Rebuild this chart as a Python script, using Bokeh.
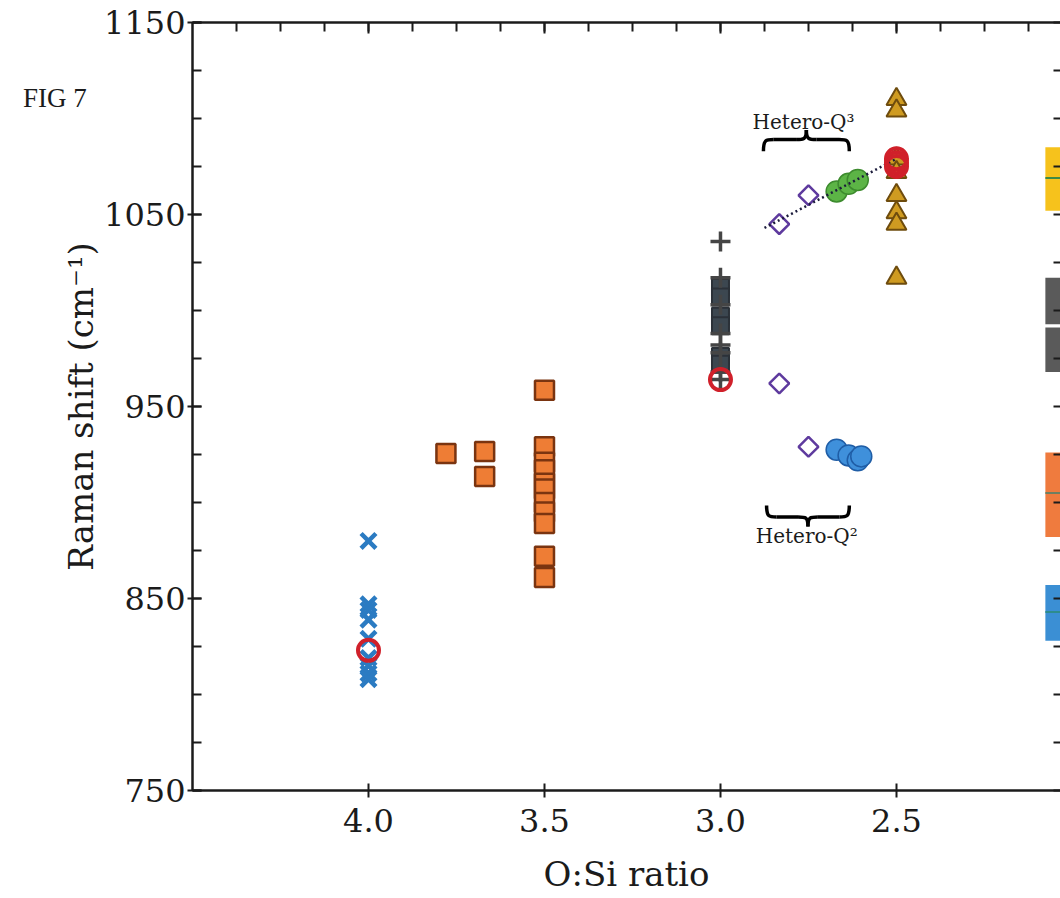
import numpy as np
from bokeh.plotting import figure
from bokeh.models import Range1d, LinearAxis, FixedTicker, Label, PrintfTickFormatter, Div
from bokeh.layouts import column
from bokeh.embed import file_html
from bokeh.resources import INLINE

# ---------------- data (O:Si ratio, Raman shift cm-1) ----------------
q0_ratio = [4.0, 4.0, 4.0, 4.0, 4.0, 4.0, 4.0, 4.0, 4.0]
q0_shift = [880, 847, 844, 839, 829, 819, 815, 811, 808]

sq_ratio = [3.78, 3.67, 3.67, 3.5, 3.5, 3.5, 3.5, 3.5, 3.5, 3.5, 3.5, 3.5, 3.5, 3.5]
sq_shift = [925.5, 926.5, 913.5, 958.5, 929, 921, 917, 910, 907, 900, 895, 889, 872, 861]

dsq_ratio = [3.0, 3.0, 3.0, 3.0, 3.0, 3.0]
dsq_shift = [1012, 1007, 997, 992, 976, 972]

plus_ratio = [3.0, 3.0, 3.0, 3.0, 3.0, 3.0, 3.0, 3.0]
plus_shift = [1036, 1017, 1003, 988, 982, 978, 968, 964]

dia_ratio = [2.833, 2.75, 2.833, 2.75]
dia_shift = [1045, 1060, 962, 929]

green_ratio = [2.67, 2.636, 2.61]
green_shift = [1062, 1066, 1068]

bcirc_ratio = [2.67, 2.636, 2.61, 2.60]
bcirc_shift = [927.5, 924.5, 922, 924]

tri_ratio = [2.5, 2.5, 2.5, 2.5, 2.5, 2.5, 2.5, 2.5]
tri_shift = [1110, 1104, 1079, 1072, 1060, 1051, 1045, 1017]

ring_ratio = [4.0, 3.0, 2.5, 2.5, 2.5]
ring_shift = [823, 964, 1079, 1077, 1075]

fit_ratio = [2.875, 2.5]
fit_shift = [1043, 1079]

# ranges shown as coloured bands at right edge
band_top = [1085, 1017, 991.2, 926, 857]
band_bottom = [1052, 992.8, 968, 882, 828]
band_colors = ["#F6C21C", "#5A5A5A", "#5A5A5A", "#EF7B3E", "#3B8FD4"]
band_mid = [1069, 905, 843]
band_mid_colors = ["#3E8A46", "#6E7F62", "#2E8C8C"]

y_major = [750, 850, 950, 1050, 1150]
y_minor = [750, 775, 800, 825, 850, 875, 900, 925, 950, 975, 1000, 1025, 1050, 1075, 1100, 1125, 1150]
x_major = [4.0, 3.5, 3.0, 2.5]
x_minor = [4.375, 4.25, 4.125, 4.0, 3.875, 3.75, 3.625, 3.5, 3.375, 3.25, 3.125, 3.0,
           2.875, 2.75, 2.625, 2.5, 2.375, 2.25, 2.125]

SERIF = "DejaVu Serif"
INK = "#1b1b1b"

p = figure(width=1060, height=898, x_range=Range1d(4.5, 2.034), y_range=Range1d(750, 1150),
           output_backend="svg", toolbar_location=None,
           min_border_left=192, min_border_right=0, min_border_top=22, min_border_bottom=108,
           background_fill_color="white", border_fill_color="white")
p.outline_line_color = None
p.xgrid.visible = False
p.ygrid.visible = False

# left axis
ya = p.yaxis[0]
ya.ticker = FixedTicker(ticks=y_major, minor_ticks=y_minor)
ya.major_tick_in = 9
ya.major_tick_out = 5
ya.minor_tick_in = 9
ya.minor_tick_out = 0
ya.axis_line_width = 2.5
ya.axis_line_color = INK
ya.major_tick_line_width = 2
ya.minor_tick_line_width = 2
ya.major_tick_line_color = INK
ya.minor_tick_line_color = INK
ya.major_label_text_font = SERIF
ya.major_label_text_font_size = "32px"
ya.major_label_text_color = INK
ya.major_label_standoff = 2
ya.axis_label = "Raman shift (cm\u207b\u00b9)"
ya.axis_label_text_font = SERIF
ya.axis_label_text_font_size = "34px"
ya.axis_label_text_font_style = "normal"
ya.axis_label_text_color = INK
ya.axis_label_standoff = 0

# bottom axis
xa = p.xaxis[0]
xa.ticker = FixedTicker(ticks=x_major, minor_ticks=[])
xa.formatter = PrintfTickFormatter(format="%.1f")
xa.major_tick_in = 7
xa.major_tick_out = 7
xa.minor_tick_in = 0
xa.minor_tick_out = 0
xa.axis_line_width = 2.5
xa.axis_line_color = INK
xa.major_tick_line_width = 2
xa.major_tick_line_color = INK
xa.major_label_text_font = SERIF
xa.major_label_text_font_size = "32px"
xa.major_label_text_color = INK
xa.major_label_standoff = 11
xa.axis_label = "O:Si ratio"
xa.axis_label_text_font = SERIF
xa.axis_label_text_font_size = "34px"
xa.axis_label_text_font_style = "normal"
xa.axis_label_text_color = INK
xa.axis_label_standoff = 19

# top axis (ticks only)
top = LinearAxis(ticker=FixedTicker(ticks=x_major, minor_ticks=x_minor),
                 major_label_text_font_size="0px", major_label_standoff=0,
                 major_tick_in=11, major_tick_out=0, minor_tick_in=9, minor_tick_out=0,
                 axis_line_width=2.5, axis_line_color=INK,
                 major_tick_line_width=2, minor_tick_line_width=2,
                 major_tick_line_color=INK, minor_tick_line_color=INK)
p.add_layout(top, "above")

# right axis (ticks only)
right = LinearAxis(ticker=FixedTicker(ticks=y_minor, minor_ticks=[]),
                   major_label_text_font_size="0px", major_label_standoff=0,
                   major_tick_in=7, major_tick_out=0, minor_tick_in=0, minor_tick_out=0,
                   axis_line_color=None,
                   major_tick_line_width=2, major_tick_line_color=INK)
p.add_layout(right, "right")

# coloured bands at right
BAND_X0, BAND_X1 = 2.077, 1.98
p.quad(left=[BAND_X0] * len(band_top), right=[BAND_X1] * len(band_top),
       top=band_top, bottom=band_bottom, fill_color=band_colors, line_color=None)
p.segment(x0=[BAND_X0] * 3, x1=[BAND_X1] * 3, y0=band_mid, y1=band_mid,
          line_color=band_mid_colors, line_width=2)

# markers
p.scatter(q0_ratio, q0_shift, marker="x", size=21, line_color="#2B7BC2", line_width=4.5)
p.scatter(sq_ratio, sq_shift, marker="square", size=19, fill_color="#EE7D35",
          line_color="#7A3410", line_width=2.5)
p.scatter(dsq_ratio, dsq_shift, marker="square", size=17, fill_color="#3C4750",
          line_color="#2B3138", line_width=2)
p.scatter(plus_ratio, plus_shift, marker="cross", size=20, line_color="#454545", line_width=3.5)
p.scatter(green_ratio, green_shift, marker="circle", size=21, fill_color="#5CB446",
          line_color="#3D8B2E", line_width=1.5)
p.scatter(bcirc_ratio, bcirc_shift, marker="circle", size=21, fill_color="#3F90DB",
          line_color="#1F5DA6", line_width=1.5)
p.scatter(dia_ratio, dia_shift, marker="square", angle=np.pi / 4, size=14, fill_color="white",
          line_color="#5E3A9E", line_width=2.5)
p.scatter(tri_ratio, tri_shift, marker="triangle", size=20, fill_color="#CF9B21",
          line_color="#6E4C0E", line_width=2)
p.line(fit_ratio, fit_shift, line_dash="2 3", line_color="#1c1c3c", line_width=2.5)
p.scatter(ring_ratio, ring_shift, marker="circle", size=21, fill_color=None,
          line_color="#D0202A", line_width=4)

# braces
def brace(xl, xr, yb, yt):
    def X(u):
        return xl + u * (xr - xl)

    def Y(v):
        return yb + v * (yt - yb)
    halves = [
        ((0, 0), (0, 0.55), (0.03, 0.55), (0.12, 0.55)),
        ((0.38, 0.55), (0.47, 0.55), (0.5, 0.55), (0.5, 1.0)),
    ]
    bx0, by0, bx1, by1, cx0, cy0, cx1, cy1 = [], [], [], [], [], [], [], []
    for mirror in (False, True):
        for (a, b, c, d) in halves:
            pts = [a, b, c, d]
            if mirror:
                pts = [(1 - u, v) for (u, v) in pts]
            bx0.append(X(pts[0][0])); by0.append(Y(pts[0][1]))
            cx0.append(X(pts[1][0])); cy0.append(Y(pts[1][1]))
            cx1.append(X(pts[2][0])); cy1.append(Y(pts[2][1]))
            bx1.append(X(pts[3][0])); by1.append(Y(pts[3][1]))
    p.bezier(x0=bx0, y0=by0, x1=bx1, y1=by1, cx0=cx0, cy0=cy0, cx1=cx1, cy1=cy1,
             line_color="black", line_width=3.5)
    p.segment(x0=[X(0.12), X(0.62)], y0=[Y(0.55)] * 2, x1=[X(0.38), X(0.88)], y1=[Y(0.55)] * 2,
              line_color="black", line_width=3.5)

brace(2.878, 2.634, 1083, 1094)
brace(2.869, 2.634, 898.5, 887.5)

p.add_layout(Label(x=2.764, y=1098, text="Hetero-Q\u00b3", text_font=SERIF, text_font_size="20px",
                   text_align="center", text_baseline="alphabetic", text_color=INK))
p.add_layout(Label(x=2.755, y=882.5, text="Hetero-Q\u00b2", text_font=SERIF, text_font_size="20px",
                   text_align="center", text_baseline="alphabetic", text_color=INK))

fig_label = Div(text='<div style="position:relative; left:18px; top:80px; '
                     'font-family:\'Liberation Serif\'; font-size:27px; color:#1b1b1b; '
                     'white-space:nowrap; line-height:27px;">FIG 7</div>',
                width=130, height=40,
                styles={"position": "absolute", "left": "0px", "top": "0px",
                        "overflow": "visible", "z-index": "10"})

layout = column(fig_label, p, spacing=0)
open("out.html", "w").write(file_html(layout, INLINE))
